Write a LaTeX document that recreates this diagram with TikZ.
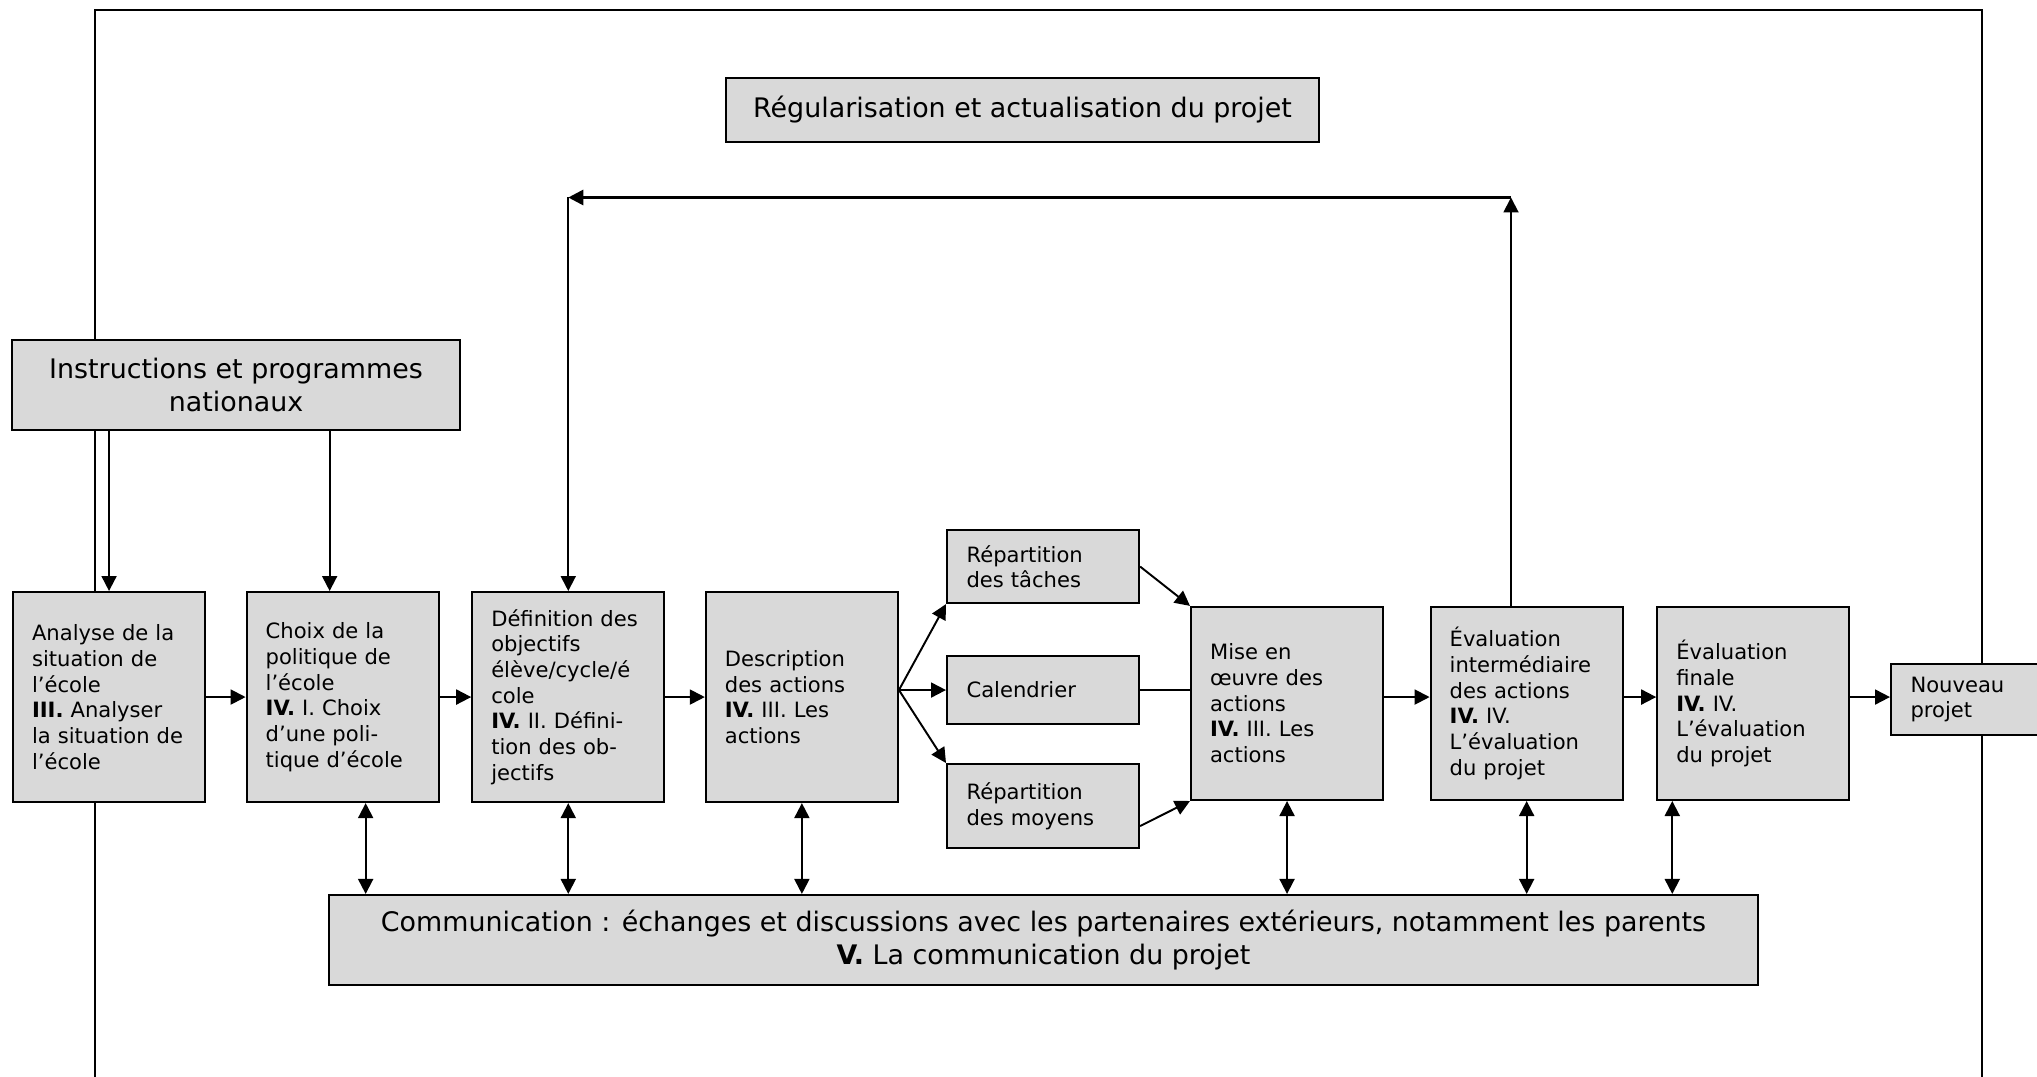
\documentclass[tikz,border=0pt]{standalone}
\usepackage{fontspec}
\setmainfont{DejaVu Sans}
\usetikzlibrary{arrows.meta,positioning,calc}

\definecolor{fondgris}{RGB}{217,217,217}
\newcommand{\txtpetit}{\fontsize{6}{7.3}\selectfont}
\newcommand{\txtgrand}{\fontsize{7.65}{9.25}\selectfont}

\tikzset{
  boite/.style={draw, fill=fondgris, line width=0.6pt, inner ysep=0.04cm},
  etape/.style={boite, minimum height=2.10cm, text width=1.54cm, inner xsep=0.19cm, align=left, font=\txtpetit},
  petite/.style={boite, text width=1.53cm, inner xsep=0.195cm, align=left, font=\txtpetit},
  large/.style={boite, align=center, font=\txtgrand},
}

\begin{document}
\begin{tikzpicture}[>={Triangle[length=1.5mm,width=1.5mm]}, line width=0.55pt]
\useasboundingbox (0,0) rectangle (20.37,-10.77);
% cadre
\draw (0.95,-10.77) -- (0.95,-0.10) -- (19.82,-0.10) -- (19.82,-10.77);

\node[large, minimum width=5.93cm, minimum height=0.64cm] (regul) at (10.225,-1.10) {Régularisation et actualisation du projet};
\node[large, minimum width=4.48cm, minimum height=0.90cm] (instr) at (2.36,-3.85) {Instructions et programmes\\nationaux};

% etapes du projet
\node[etape, anchor=north west] (analyse) at (0.12,-5.91) {Analyse de la\\situation de\\l’école\\\textbf{III.} Analyser\\la situation de\\l’école};
\node[etape, right=0.395cm of analyse] (choix) {Choix de la\\politique de\\l’école\\\textbf{IV.} I. Choix\\d’une poli-\\tique d’école};
\node[etape, right=0.315cm of choix] (defin) {Définition des\\objectifs\\élève/cycle/é\\cole\\\textbf{IV.} II. Défini-\\tion des ob-\\jectifs};
\node[etape, right=0.395cm of defin] (descr) {Description\\des actions\\\textbf{IV.} III. Les\\actions};

\node[petite, minimum height=0.73cm, anchor=north west] (taches) at (9.46,-5.29) {Répartition\\des tâches};
\node[petite, minimum height=0.68cm, anchor=north west] (calend) at (9.46,-6.55) {Calendrier};
\node[petite, minimum height=0.84cm, anchor=north west] (moyens) at (9.46,-7.63) {Répartition\\des moyens};

\node[etape, minimum height=1.93cm, anchor=south west] (mise) at (11.90,-8.01) {Mise en\\œuvre des\\actions\\\textbf{IV.} III. Les\\actions};
\node[etape, minimum height=1.93cm, right=0.455cm of mise] (evali) {Évaluation\\intermédiaire\\des actions\\\textbf{IV.} IV.\\L’évaluation\\du projet};
\node[etape, minimum height=1.93cm, right=0.325cm of evali] (evalf) {Évaluation\\finale\\\textbf{IV.} IV.\\L’évaluation\\du projet};
\node[petite, minimum height=0.71cm, text width=1.2cm, anchor=north west] (nouveau) at (18.90,-6.63) {Nouveau\\projet};

\node[large, minimum width=14.29cm, minimum height=0.90cm] (comm) at (10.435,-9.40) {Communication : échanges et discussions avec les partenaires extérieurs, notamment les parents\\\textbf{V.} La communication du projet};

% instructions
\draw[->] (analyse.north |- instr.south) -- (analyse.north);
\draw[->] ([xshift=-0.13cm]choix.north |- instr.south) -- ([xshift=-0.13cm]choix.north);

% chaine principale
\draw[->] (analyse) -- (choix);
\draw[->] (choix) -- (defin);
\draw[->] (defin) -- (descr);

\coordinate (fan) at (descr.east |- calend.west);
\draw[->] (fan) -- (taches.south west);
\draw[->] (fan) -- (calend.west);
\draw[->] (fan) -- (moyens.north west);
\draw[->] (taches.east) -- (mise.north west);
\draw (calend.east) -- (calend.east -| mise.west);
\draw[->] ([yshift=-0.2cm]moyens.east) -- (mise.south west);

\draw[->] (mise.east |- analyse.east) -- (evali.west |- analyse.east);
\draw[->] (evali.east |- analyse.east) -- (evalf.west |- analyse.east);
\draw[->] (evalf.east |- analyse.east) -- (nouveau.west |- analyse.east);

% boucle de regulation
\coordinate (hautd) at (15.11,-1.975);
\draw[->] (evali.north -| hautd) -- (hautd);
\draw[->, line width=0.8pt] (hautd) -- (defin.north |- hautd);
\draw[->] (defin.north |- hautd) -- (defin.north);

% communication
\foreach \n/\dx in {choix/0.23, defin/0, descr/0, mise/0, evali/0, evalf/-0.81}
  \draw[<->] ([xshift=\dx cm]\n.south) -- ([xshift=\dx cm]\n.south |- comm.north);
\end{tikzpicture}
\end{document}
